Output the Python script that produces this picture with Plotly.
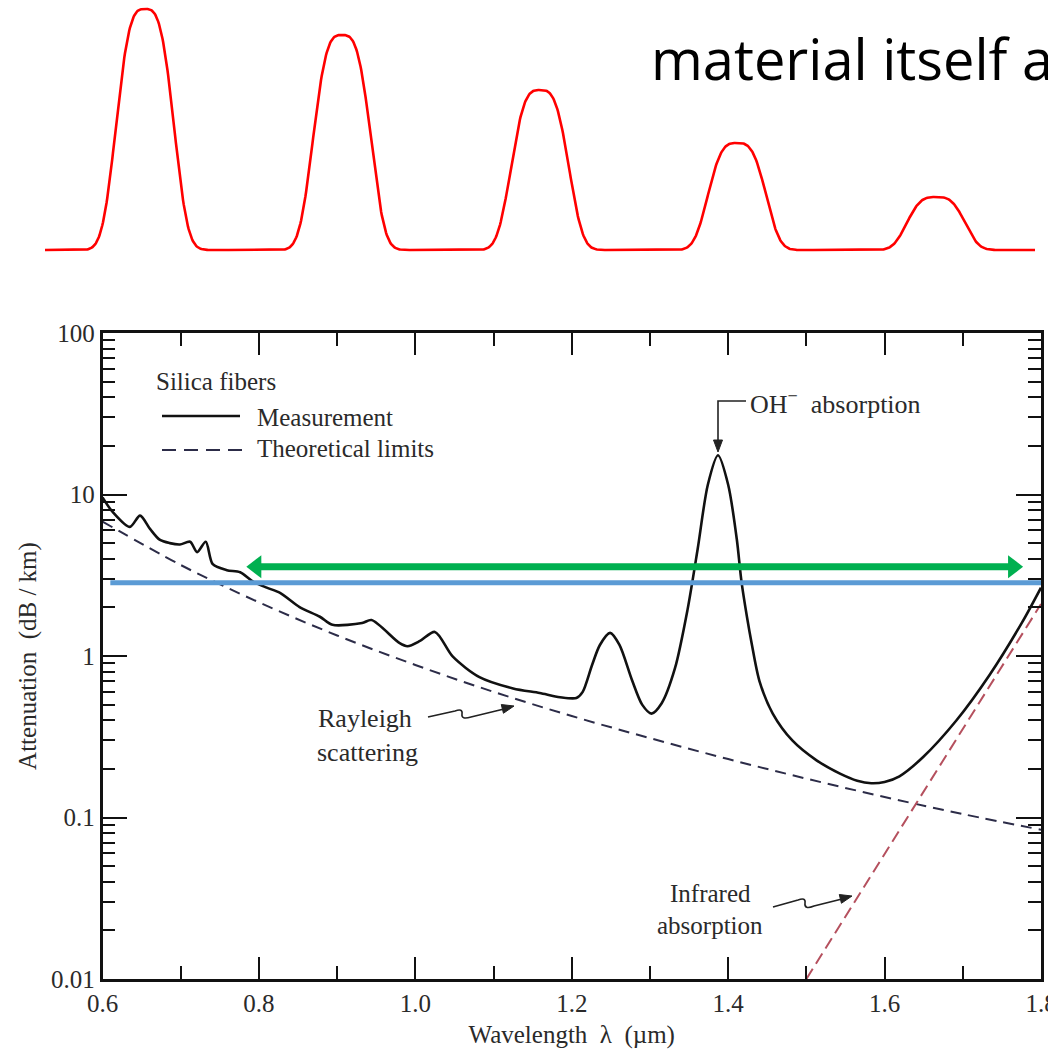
import numpy as np
import plotly.graph_objects as go

W, H = 1048, 1049

# ---------------- data ----------------
meas_wl = [0.600, 0.613, 0.635, 0.648, 0.661, 0.673, 0.686, 0.699, 0.712, 0.721,
           0.732, 0.741, 0.759, 0.776, 0.792, 0.810, 0.827, 0.852, 0.878, 0.894,
           0.932, 0.944, 0.980, 0.990, 1.006, 1.025, 1.048, 1.082, 1.125, 1.159,
           1.185, 1.206, 1.214, 1.226, 1.236, 1.249, 1.261, 1.277, 1.290, 1.302,
           1.315, 1.332, 1.348, 1.361, 1.374, 1.387, 1.400, 1.411, 1.417, 1.424,
           1.430, 1.440, 1.457, 1.482, 1.513, 1.543, 1.565, 1.583, 1.600, 1.619,
           1.649, 1.692, 1.734, 1.776, 1.800]
meas_att = [9.6, 7.8, 6.3, 7.4, 6.1, 5.25, 5.0, 4.9, 5.1, 4.4,
            5.1, 3.7, 3.4, 3.3, 2.9, 2.65, 2.46, 2.01, 1.75, 1.56,
            1.60, 1.67, 1.20, 1.15, 1.24, 1.41, 0.99, 0.74, 0.63, 0.59,
            0.556, 0.55, 0.60, 0.88, 1.17, 1.39, 1.17, 0.71, 0.50, 0.44,
            0.51, 0.84, 1.93, 4.6, 11.5, 17.5, 11.5, 5.3, 2.9, 1.75,
            1.2, 0.70, 0.44, 0.30, 0.226, 0.187, 0.169, 0.163, 0.166, 0.180,
            0.236, 0.40, 0.76, 1.62, 2.65]

rayleigh_wl = [0.6, 0.7, 0.8, 0.9, 1.0, 1.1, 1.2, 1.3, 1.4, 1.5, 1.6, 1.7, 1.8]
rayleigh_att = [6.8, 3.66, 2.15, 1.34, 0.88, 0.60, 0.425, 0.31, 0.23, 0.174, 0.134, 0.105, 0.084]

ir_wl = [1.50, 1.80]
ir_att = [0.01, 2.1]

# overlay lines drawn on top of the chart
blue_wl = [0.61, 1.80]
blue_att = [2.84, 2.84]
green_wl = [0.782, 1.779]
green_att = [3.57, 3.57]

# pulse illustration (top): centres / heights in pixel-like units
pulse_centers = [145, 342, 540, 737, 936]
pulse_heights = [241, 215, 160, 107, 53]
pulse_scale = 33
pulse_power = 3.2
pulse_span = [45, 1035]

x_tick_vals = [0.6, 0.8, 1.0, 1.2, 1.4, 1.6, 1.8]
x_tick_text = ["0.6", "0.8", "1.0", "1.2", "1.4", "1.6", "1.8"]
x_minor_vals = [0.7, 0.9, 1.1, 1.3, 1.5, 1.7]
y_tick_vals = [0.01, 0.1, 1, 10, 100]
y_tick_text = ["0.01", "0.1", "1", "10", "100"]
y_minor_vals = [m * 10.0 ** k for k in range(-2, 2) for m in range(2, 10)]

# ---------------- helpers ----------------
def px(x):
    return x / W

def py(y):
    return 1 - y / H

SERIF = "Liberation Serif"
TXT = "#2a2a2a"

fig = go.Figure()

# pulses
xs = np.linspace(pulse_span[0], pulse_span[1], 1400)
ys = np.zeros_like(xs)
for c, h in zip(pulse_centers, pulse_heights):
    ys += h * np.exp(-np.abs((xs - c) / pulse_scale) ** pulse_power)
fig.add_trace(go.Scatter(x=xs, y=ys, mode="lines", line=dict(color="#ff0000", width=2.6),
                         xaxis="x2", yaxis="y2", hoverinfo="skip", showlegend=False))

# theoretical limits
fig.add_trace(go.Scatter(x=rayleigh_wl, y=rayleigh_att, mode="lines", line_shape="spline",
                         line=dict(color="#2c2c48", width=2, dash="11px,7px"), showlegend=False))
fig.add_trace(go.Scatter(x=ir_wl, y=ir_att, mode="lines",
                         line=dict(color="#b5505e", width=2, dash="12px,6px"), showlegend=False))
# measurement
fig.add_trace(go.Scatter(x=meas_wl, y=meas_att, mode="lines", line_shape="spline",
                         line=dict(color="#111111", width=2.6, smoothing=0.8), showlegend=False))

# blue level line
fig.add_trace(go.Scatter(x=blue_wl, y=blue_att, mode="lines",
                         line=dict(color="#5b9bd5", width=5), showlegend=False))
# green double arrow
head_off = 0.0147
fig.add_trace(go.Scatter(x=[green_wl[0] + head_off, green_wl[1] - head_off], y=green_att,
                         mode="lines+markers", line=dict(color="#00b050", width=7),
                         marker=dict(symbol=["triangle-left", "triangle-right"], size=20,
                                     color="#00b050", line=dict(width=0)),
                         showlegend=False))

annotations = []
shapes = []

def text(t, x, y, size=25, anchor="left", font=SERIF, color=TXT, yanchor="middle"):
    annotations.append(dict(text=t, x=px(x), y=py(y), xref="paper", yref="paper",
                            xanchor=anchor, yanchor=yanchor, showarrow=False,
                            font=dict(family=font, size=size, color=color)))

def pline(points, width=1.6, color="#222"):
    d = "M" + " L".join(f"{px(a)},{py(b)}" for a, b in points)
    shapes.append(dict(type="path", xref="paper", yref="paper", path=d,
                       line=dict(color=color, width=width)))

def arrowhead(tip, tail, length=12, half=4.5, color="#222"):
    tx, ty = tip
    dx, dy = tip[0] - tail[0], tip[1] - tail[1]
    n = (dx * dx + dy * dy) ** 0.5
    ux, uy = dx / n, dy / n
    bx, by = tx - ux * length, ty - uy * length
    p1 = (bx - uy * half, by + ux * half)
    p2 = (bx + uy * half, by - ux * half)
    d = f"M{px(tx)},{py(ty)} L{px(p1[0])},{py(p1[1])} L{px(p2[0])},{py(p2[1])} Z"
    shapes.append(dict(type="path", xref="paper", yref="paper", path=d,
                       fillcolor=color, line=dict(color=color, width=1)))

# top slide text
text("material itself a", 649, 58, size=56, font="Open Sans", color="#000000")

# legend
text("Silica fibers", 154, 381)
text("Measurement", 255, 417)
text("Theoretical limits", 255, 449)
shapes.append(dict(type="line", xref="paper", yref="paper", x0=px(162), x1=px(240),
                   y0=py(416), y1=py(416), line=dict(color="#111", width=2.6)))
shapes.append(dict(type="line", xref="paper", yref="paper", x0=px(162), x1=px(248),
                   y0=py(450), y1=py(450), line=dict(color="#2c2c48", width=2, dash="14px,8px")))

# OH- absorption
text("OH<sup>\u2212</sup>\u00a0 absorption", 748, 402, size=26)
pline([(746, 401), (718, 401), (718, 442)])
arrowhead((718, 452), (718, 430))

# Rayleigh scattering
text("Rayleigh", 365, 718, anchor="center", size=26)
text("scattering", 367, 752, anchor="center", size=26)
shapes.append(dict(type="path", xref="paper", yref="paper",
                   path=(f"M{px(428)},{py(717)} L{px(455)},{py(711)} "
                         f"Q{px(463)},{py(708)} {px(462)},{py(714)} "
                         f"Q{px(461)},{py(720)} {px(471)},{py(717)} L{px(504)},{py(709)}"),
                   line=dict(color="#222", width=1.6)))
arrowhead((514, 706), (498, 710))

# Infrared absorption
text("Infrared", 710, 893, anchor="center")
text("absorption", 710, 925, anchor="center")
shapes.append(dict(type="path", xref="paper", yref="paper",
                   path=(f"M{px(773)},{py(907)} L{px(798)},{py(900)} "
                         f"Q{px(806)},{py(897)} {px(805)},{py(903)} "
                         f"Q{px(804)},{py(910)} {px(814)},{py(906)} L{px(842)},{py(899)}"),
                   line=dict(color="#222", width=1.6)))
arrowhead((852, 896), (836, 900))

axis_common = dict(showline=True, linecolor="#111", linewidth=2.5, mirror="allticks",
                   ticks="inside", tickcolor="#111", tickwidth=2, showgrid=False,
                   zeroline=False, automargin=False, ticklabeloverflow="allow",
                   tickfont=dict(family=SERIF, size=25, color=TXT))

fig.update_layout(
    width=W, height=H, margin=dict(l=0, r=0, t=0, b=0),
    paper_bgcolor="white", plot_bgcolor="rgba(0,0,0,0)", template="none",
    showlegend=False,
    xaxis=dict(domain=[102.5 / W, 1041 / W], range=[0.6, 1.8],
               tickmode="array", tickvals=x_tick_vals, ticktext=x_tick_text, ticklen=22,
               minor=dict(tickmode="array", tickvals=x_minor_vals, ticks="inside", ticklen=13,
                          tickwidth=2, tickcolor="#111", showgrid=False),
               title=dict(text="Wavelength\u00a0\u00a0\u03bb\u00a0\u00a0(\u00b5m)", standoff=12,
                          font=dict(family=SERIF, size=25, color=TXT)),
               **axis_common),
    yaxis=dict(domain=[1 - 979 / H, 1 - 333 / H], type="log", range=[-2, 2],
               tickmode="array", tickvals=y_tick_vals, ticktext=y_tick_text, ticklen=25,
               minor=dict(tickmode="array", tickvals=y_minor_vals, ticks="inside", ticklen=13,
                          tickwidth=2, tickcolor="#111", showgrid=False),
               title=dict(text="Attenuation\u00a0\u00a0(dB\u00a0/\u00a0km)", standoff=8,
                          font=dict(family=SERIF, size=25, color=TXT)),
               **axis_common),
    xaxis2=dict(domain=[0, 1], range=[0, W], visible=False, anchor="y2"),
    yaxis2=dict(domain=[1 - 260 / H, 1], range=[-10, 250], visible=False, anchor="x2"),
    annotations=annotations,
    shapes=shapes,
)

fig.write_html("out.html", config={"displayModeBar": False},
               post_script="document.body.style.margin='0';document.body.style.overflow='hidden';")
